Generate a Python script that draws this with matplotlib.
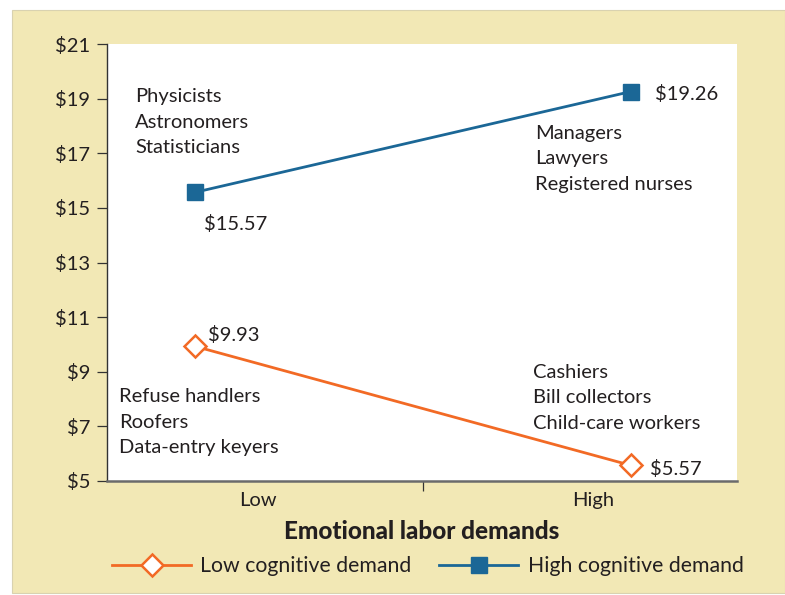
import matplotlib
matplotlib.use("Agg")
import matplotlib.pyplot as plt
from matplotlib.patches import Rectangle
from matplotlib.lines import Line2D

plt.rcParams['font.family'] = ['Lato', 'DejaVu Sans']

# ---- data ----
categories = ["Low", "High"]
low_cog = [9.93, 5.57]
high_cog = [15.57, 19.26]
series_names = ["Low cognitive demand", "High cognitive demand"]
yticks = [5, 7, 9, 11, 13, 15, 17, 19, 21]
ytick_labels = ["$5", "$7", "$9", "$11", "$13", "$15", "$17", "$19", "$21"]
xlabel = "Emotional labor demands"
groups = {
    "high_low": ["Physicists", "Astronomers", "Statisticians"],
    "high_high": ["Managers", "Lawyers", "Registered nurses"],
    "low_low": ["Refuse handlers", "Roofers", "Data-entry keyers"],
    "low_high": ["Cashiers", "Bill collectors", "Child-care workers"],
}

ORANGE = "#F26A25"
BLUE = "#1B6796"
CREAM = "#F2E8B5"
TXT = "#231F20"
FS = 14.5

fig = plt.figure(figsize=(7.85, 5.95), dpi=100, facecolor="white")
bg = Rectangle((12/785, 2/595), 773/785, 583/595,
               transform=fig.transFigure, facecolor=CREAM,
               edgecolor="#d9d2b0", linewidth=0.8, zorder=-10)
fig.add_artist(bg)

ax = fig.add_axes([107/785, 114/595, 630/785, 437/595])
ax.set_zorder(1)
ax.set_facecolor("white")

xpos = [0, 1]
ax.plot(xpos, high_cog, color=BLUE, lw=2.0, marker="s", ms=12,
        mfc=BLUE, mec=BLUE, zorder=3, clip_on=False)
ax.plot(xpos, low_cog, color=ORANGE, lw=2.0, marker="D", ms=11,
        mfc="white", mec=ORANGE, mew=1.8, zorder=3, clip_on=False)

ax.set_xlim(-0.202, 1.243)
ax.set_ylim(5, 21)

# value labels
offsets_high = [(6.5, -22.5), (17, -2)]
offsets_low = [(9.5, 8), (14, -2.5)]
for x, v, off in zip(xpos, high_cog, offsets_high):
    ax.annotate(f"${v:.2f}", (x, v), xytext=off, textcoords="offset points",
                ha="left", va="center", fontsize=FS, color=TXT)
for x, v, off in zip(xpos, low_cog, offsets_low):
    ax.annotate(f"${v:.2f}", (x, v), xytext=off, textcoords="offset points",
                ha="left", va="center", fontsize=FS, color=TXT)

# occupation group labels
ls = 1.6
ax.text(-0.138, 18.14, "\n".join(groups["high_low"]), ha="left", va="center",
        fontsize=FS, color=TXT, linespacing=ls)
ax.text(0.780, 16.79, "\n".join(groups["high_high"]), ha="left", va="center",
        fontsize=FS, color=TXT, linespacing=ls)
ax.text(-0.174, 7.16, "\n".join(groups["low_low"]), ha="left", va="center",
        fontsize=FS, color=TXT, linespacing=ls)
ax.text(0.775, 8.04, "\n".join(groups["low_high"]), ha="left", va="center",
        fontsize=FS, color=TXT, linespacing=ls)

# axes styling
for s in ["top", "right"]:
    ax.spines[s].set_visible(False)
ax.spines["left"].set_color("#333333")
ax.spines["left"].set_linewidth(1.0)
ax.spines["bottom"].set_color("#6b6b6b")
ax.spines["bottom"].set_linewidth(1.8)

ax.set_yticks(yticks)
ax.set_yticklabels(ytick_labels)
ax.tick_params(axis="y", length=7, width=0.9, color="#333333", pad=5,
               labelsize=FS, labelcolor=TXT, direction="out")

ax.set_xticks([0.144, 0.913])
ax.set_xticklabels(categories)
ax.tick_params(axis="x", length=0, pad=8, labelsize=FS, labelcolor=TXT)
ax.set_xticks([0.523], minor=True)
ax.tick_params(axis="x", which="minor", length=7, width=0.9, color="#333333",
               direction="out")

ax.set_xlabel(xlabel, fontsize=17.5, fontweight=900, color=TXT, labelpad=7.5)

handles = [
    Line2D([], [], color=ORANGE, lw=2.0, marker="D", ms=11, mfc="white",
           mec=ORANGE, mew=1.8),
    Line2D([], [], color=BLUE, lw=2.0, marker="s", ms=12, mfc=BLUE, mec=BLUE),
]
fig.legend(handles, series_names, loc="center", bbox_to_anchor=(0.545, 0.0487),
           ncol=2, frameon=False, prop={"size": 15.3}, handlelength=3.7,
           handletextpad=0.45, columnspacing=1.3, labelcolor=TXT)

fig.savefig("out.png", dpi=100, facecolor=fig.get_facecolor())
